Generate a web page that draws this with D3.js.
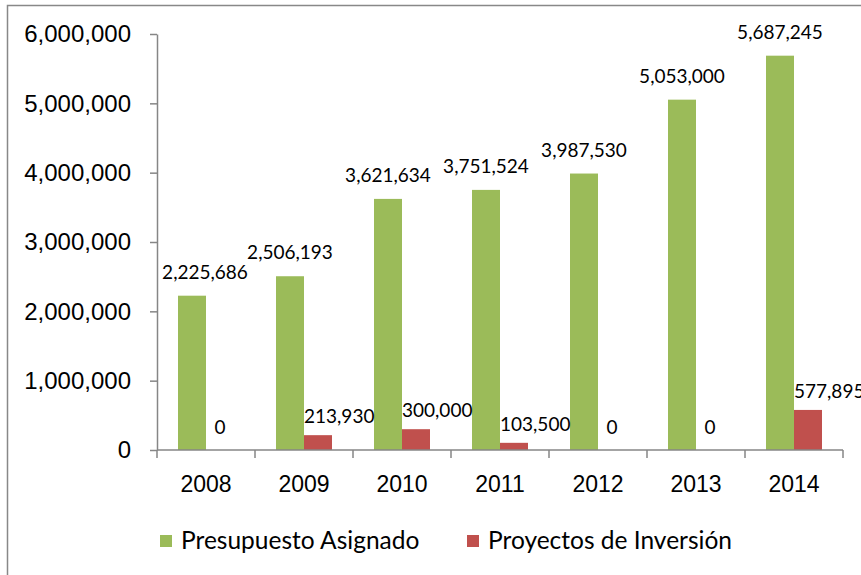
<!DOCTYPE html>
<html>
<head>
<meta charset="utf-8">
<script src="https://cdn.jsdelivr.net/npm/d3@7"></script>
<style>
  body { margin: 0; background: #fff; }
  svg { font-family: Lato, "Open Sans", sans-serif; }
</style>
</head>
<body>
<div id="chart"></div>
<script>
var years = ["2008", "2009", "2010", "2011", "2012", "2013", "2014"];
var presupuesto = [2225686, 2506193, 3621634, 3751524, 3987530, 5053000, 5687245];
var proyectos = [0, 213930, 300000, 103500, 0, 0, 577895];
var seriesNames = ["Presupuesto Asignado", "Proyectos de Inversión"];
var seriesColors = ["#9BBB59", "#C0504D"];
var yTicks = [0, 1000000, 2000000, 3000000, 4000000, 5000000, 6000000];

var W = 861, H = 575;
var plotL = 157, plotR = 843, plotT = 34, plotB = 450;

var svg = d3.select("#chart").append("svg")
    .attr("width", W)
    .attr("height", H);

// outer frame
svg.append("rect")
    .attr("x", 7.5).attr("y", 5.5)
    .attr("width", W).attr("height", H)
    .attr("fill", "none")
    .attr("stroke", "#888")
    .attr("stroke-width", 1.5);

var x = d3.scaleBand()
    .domain(years)
    .range([plotL, plotR])
    .paddingInner(0)
    .paddingOuter(0);

var y = d3.scaleLinear()
    .domain([0, 6000000])
    .range([plotB, plotT]);

var fmt = d3.format(",");

// bars: each band = gap | green | red | gap
var barW = x.bandwidth() * 56 / 98 / 2;
var pad = (x.bandwidth() - barW * 2) / 2;

var data = years.map(function(yr, i) {
    return {year: yr, vals: [presupuesto[i], proyectos[i]]};
});

var groups = svg.selectAll(".grp")
    .data(data)
    .enter().append("g")
    .attr("class", "grp")
    .attr("transform", function(d) { return "translate(" + x(d.year) + ",0)"; });

groups.selectAll("rect")
    .data(function(d) { return d.vals.map(function(v, k) { return {v: v, k: k}; }); })
    .enter().append("rect")
    .attr("x", function(d) { return pad + d.k * barW; })
    .attr("y", function(d) { return y(d.v); })
    .attr("width", barW)
    .attr("height", function(d) { return plotB - y(d.v); })
    .attr("fill", function(d) { return seriesColors[d.k]; });

// y axis
var yAxis = d3.axisLeft(y)
    .tickValues(yTicks)
    .tickFormat(fmt)
    .tickSize(7)
    .tickSizeOuter(0)
    .tickPadding(19);

var gy = svg.append("g")
    .attr("transform", "translate(" + plotL + ",0)")
    .call(yAxis);
gy.select(".domain").attr("stroke", "#868686").attr("stroke-width", 1.5);
gy.selectAll(".tick line").attr("stroke", "#868686").attr("stroke-width", 1.5);
gy.selectAll(".tick text")
    .attr("fill", "#000")
    .style("font-size", "24px");

// x axis
var gx = svg.append("g")
    .attr("transform", "translate(0," + plotB + ")")
    .call(d3.axisBottom(x).tickSize(0).tickPadding(26));
gx.select(".domain").attr("stroke", "#868686").attr("stroke-width", 1.5)
    .attr("d", "M" + plotL + ",0H" + plotR);
gx.selectAll(".tick text")
    .attr("fill", "#000")
    .style("font-size", "23px");

// x tick marks at band boundaries
svg.selectAll(".xtick")
    .data(years.concat(["end"]))
    .enter().append("line")
    .attr("class", "xtick")
    .attr("x1", function(d, i) { return plotL + i * x.bandwidth(); })
    .attr("x2", function(d, i) { return plotL + i * x.bandwidth(); })
    .attr("y1", plotB)
    .attr("y2", plotB + 8)
    .attr("stroke", "#868686")
    .attr("stroke-width", 1.5);

// data labels green
svg.selectAll(".lblG")
    .data(data)
    .enter().append("text")
    .attr("class", "lblG")
    .attr("x", function(d) {
        var cx = x(d.year) + pad + barW / 2;
        return Math.max(cx, plotL + 48);
    })
    .attr("y", function(d) { return y(d.vals[0]) - 17; })
    .attr("text-anchor", "middle")
    .style("font-size", "19px")
    .text(function(d) { return fmt(d.vals[0]); });

// data labels red
svg.selectAll(".lblR")
    .data(data)
    .enter().append("text")
    .attr("class", "lblR")
    .attr("x", function(d) {
        var bx = x(d.year) + pad + barW;
        return d.vals[1] > 0 ? bx : bx + barW / 2;
    })
    .attr("y", function(d) { return d.vals[1] > 0 ? y(d.vals[1]) - 12 : plotB - 16; })
    .attr("text-anchor", function(d) { return d.vals[1] > 0 ? "start" : "middle"; })
    .style("font-size", "19px")
    .text(function(d) { return fmt(d.vals[1]); });

// legend
var legX = [160, 467];
var leg = svg.selectAll(".leg")
    .data(seriesNames)
    .enter().append("g")
    .attr("class", "leg")
    .attr("transform", function(d, i) { return "translate(" + legX[i] + ",535)"; });
leg.append("rect")
    .attr("width", 12).attr("height", 12)
    .attr("fill", function(d, i) { return seriesColors[i]; });
leg.append("text")
    .attr("x", 21)
    .attr("y", 14)
    .style("font-size", "24.5px")
    .text(function(d) { return d; });
</script>
</body>
</html>
